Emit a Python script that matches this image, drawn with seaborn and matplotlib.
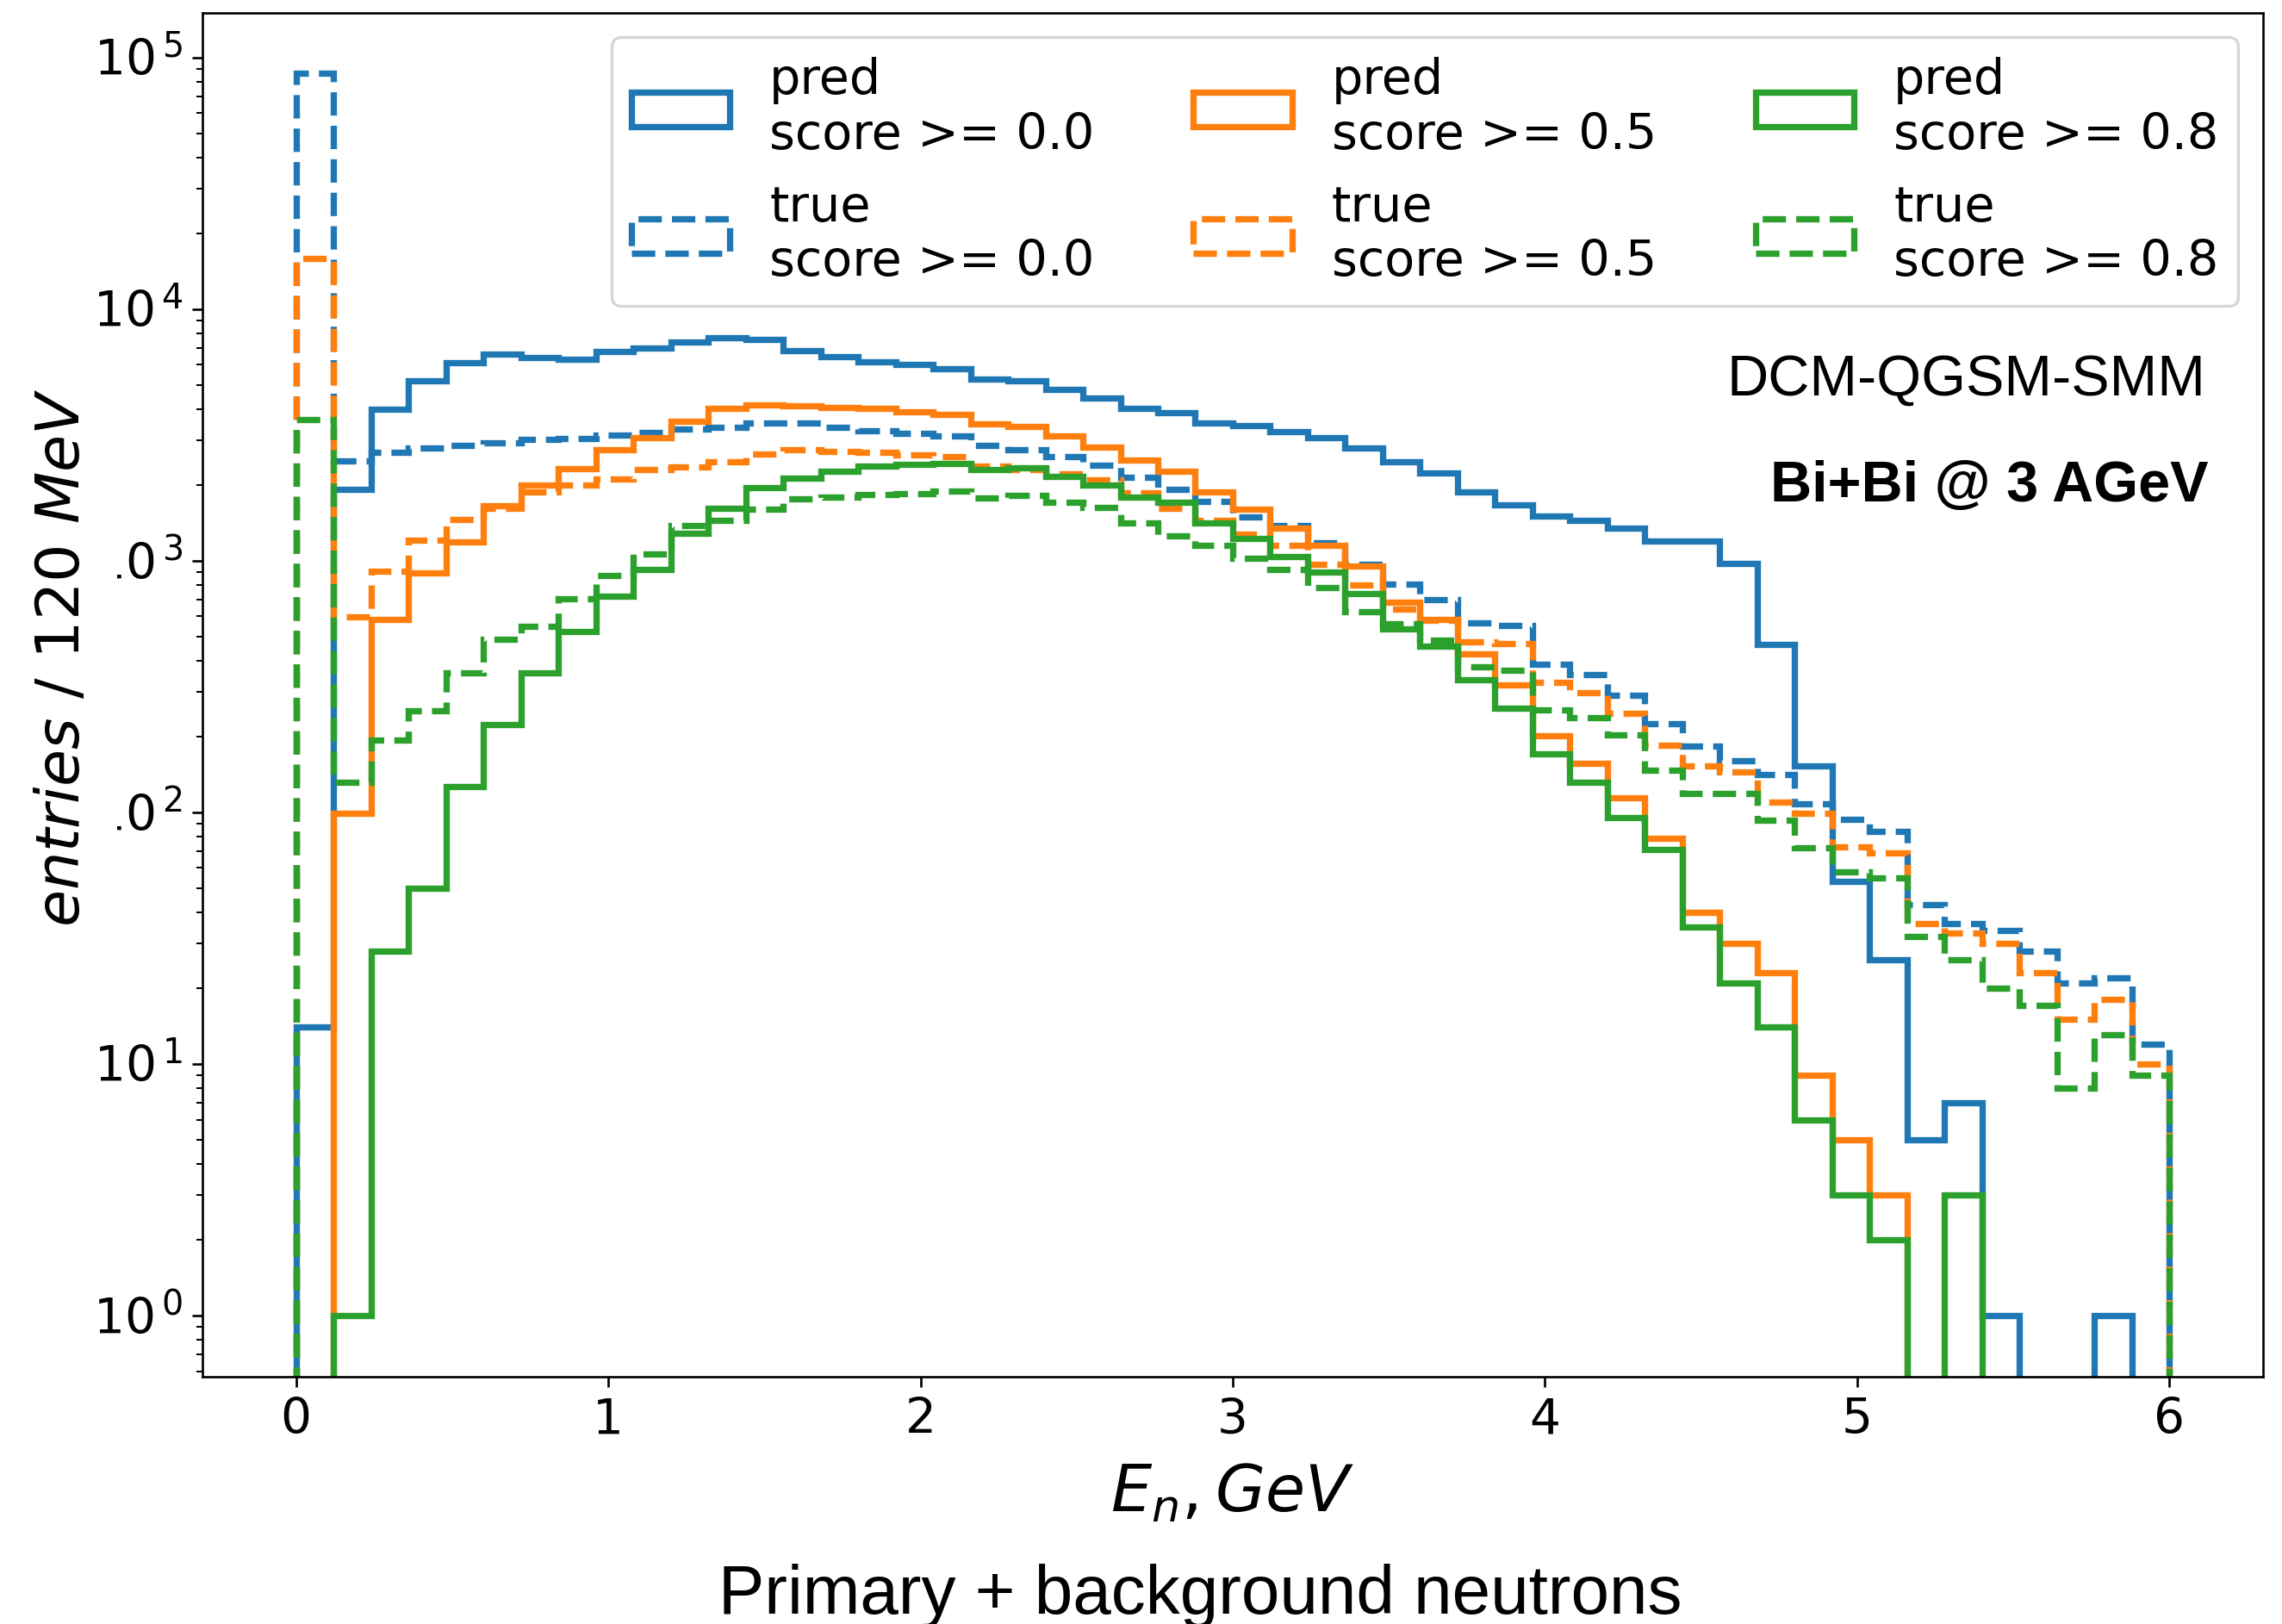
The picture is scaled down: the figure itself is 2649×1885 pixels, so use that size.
import numpy as np
import matplotlib
matplotlib.use('Agg')
import matplotlib.pyplot as plt
from matplotlib.ticker import FuncFormatter
import seaborn as sns

sns.set_style('ticks', {'axes.edgecolor': 'black', 'text.color': 'black',
                        'axes.labelcolor': 'black', 'xtick.color': 'black',
                        'ytick.color': 'black'})
plt.rcParams['font.family'] = ['DejaVu Sans']
plt.rcParams['mathtext.fontset'] = 'dejavusans'
plt.rcParams['xtick.labelsize'] = 17
plt.rcParams['ytick.labelsize'] = 17

# 50 bins of 120 MeV from 0 to 6 GeV
bin_edges = np.round(np.arange(51) * 0.12, 2)
bin_centers = bin_edges[:-1] + 0.06

# entries per bin
pred_00 = [14, 1920, 3990, 5190, 6120, 6640, 6410, 6310, 6770, 7000,
           7400, 7680, 7600, 6830, 6470, 6180, 6030, 5780, 5270, 5180,
           4800, 4440, 4030, 3880, 3520, 3440, 3260, 3090, 2810, 2480,
           2230, 1870, 1670, 1500, 1450, 1350, 1200, 1200, 975, 465,
           153, 53, 26, 5, 7, 1, 0, 0, 1, 0]
true_00 = [86500, 2495, 2700, 2800, 2870, 2930, 3040, 3055, 3155, 3225,
           3340, 3375, 3515, 3520, 3375, 3280, 3200, 3130, 2880, 2760,
           2590, 2390, 2150, 1920, 1720, 1490, 1380, 1180, 970, 805,
           700, 565, 552, 386, 351, 291, 225, 183, 160, 141,
           108, 94, 84, 43, 36, 34, 28, 21, 22, 12]
pred_05 = [0, 99, 585, 893, 1190, 1650, 1990, 2320, 2760, 3090,
           3580, 4030, 4170, 4120, 4070, 4030, 3910, 3820, 3490, 3410,
           3130, 2830, 2520, 2270, 1870, 1600, 1350, 1150, 951, 685,
           585, 426, 321, 202, 156, 114, 79, 40, 30, 23,
           9, 5, 3, 0, 0, 0, 0, 0, 0, 0]
true_05 = [15900, 597, 906, 1210, 1460, 1620, 1870, 2000, 2110, 2310,
           2360, 2480, 2660, 2760, 2720, 2690, 2640, 2590, 2370, 2310,
           2210, 2100, 1860, 1610, 1450, 1270, 1150, 970, 802, 640,
           578, 477, 469, 327, 299, 247, 185, 153, 144, 110,
           99, 73, 69, 36, 33, 30, 23, 15, 18, 10]
pred_08 = [0, 1, 28, 50, 126, 223, 358, 523, 722, 922,
           1280, 1620, 1950, 2135, 2270, 2370, 2420, 2430, 2310, 2330,
           2160, 2000, 1790, 1700, 1415, 1225, 1040, 902, 739, 535,
           457, 336, 260, 171, 131, 95, 71, 35, 21, 14,
           6, 3, 2, 0, 3, 0, 0, 0, 0, 0]
true_08 = [3650, 131, 194, 253, 358, 487, 548, 707, 870, 1060,
           1380, 1450, 1600, 1760, 1790, 1835, 1845, 1890, 1780, 1810,
           1700, 1630, 1410, 1250, 1150, 1025, 925, 783, 628, 560,
           483, 377, 367, 256, 238, 203, 147, 119, 119, 93,
           72, 58, 55, 32, 26, 20, 17, 8, 13, 9]

thresholds = ['0.0', '0.5', '0.8']
pred_sets = [pred_00, pred_05, pred_08]
true_sets = [true_00, true_05, true_08]
colors = sns.color_palette('tab10')[:3]

fig = plt.figure(figsize=(2649 / 240, 1885 / 240), dpi=240)
ax = fig.add_axes([0.08871, 0.15225, 0.90298, 0.83995])

for thr, pv, tv, c in zip(thresholds, pred_sets, true_sets, colors):
    ax.hist(bin_centers, bins=bin_edges, weights=pv, histtype='step', log=True,
            color=c, linewidth=2.2, linestyle='-', label='pred\nscore >= ' + thr)
    ax.hist(bin_centers, bins=bin_edges, weights=tv, histtype='step', log=True,
            color=c, linewidth=2.2, linestyle='--', label='true\nscore >= ' + thr)

ax.set_xlim(-0.3, 6.3)
ax.set_ylim(0.57, 1.507e5)
ax.set_xticks([0, 1, 2, 3, 4, 5, 6])
ax.yaxis.set_major_formatter(
    FuncFormatter(lambda v, pos: '$\\mathdefault{10^{\\,%d}}$' % round(np.log10(v))))

ax.set_xlabel('$E_n, GeV$', fontsize=22.5, labelpad=6.5)
ax.set_ylabel('$entries\\ /\\ 120\\ MeV$', fontsize=21,
              bbox=dict(facecolor='white', edgecolor='none', pad=9))
ax.yaxis.set_label_coords(-0.054, 0.527)

ax.legend(loc='upper right', ncol=3, fontsize=17.2)

ax.text(0.972, 0.7194, 'DCM-QGSM-SMM', transform=ax.transAxes, ha='right',
        va='baseline', fontsize=20, family='Liberation Sans')
ax.text(0.9737, 0.6417, 'Bi+Bi @ 3 AGeV', transform=ax.transAxes, ha='right',
        va='baseline', fontsize=20, fontweight='bold', family='Liberation Sans')

fig.text(0.5259, 0.0064, 'Primary + background neutrons', ha='center',
         va='baseline', fontsize=24, family='Liberation Sans')

fig.savefig('out.png', dpi=240)
